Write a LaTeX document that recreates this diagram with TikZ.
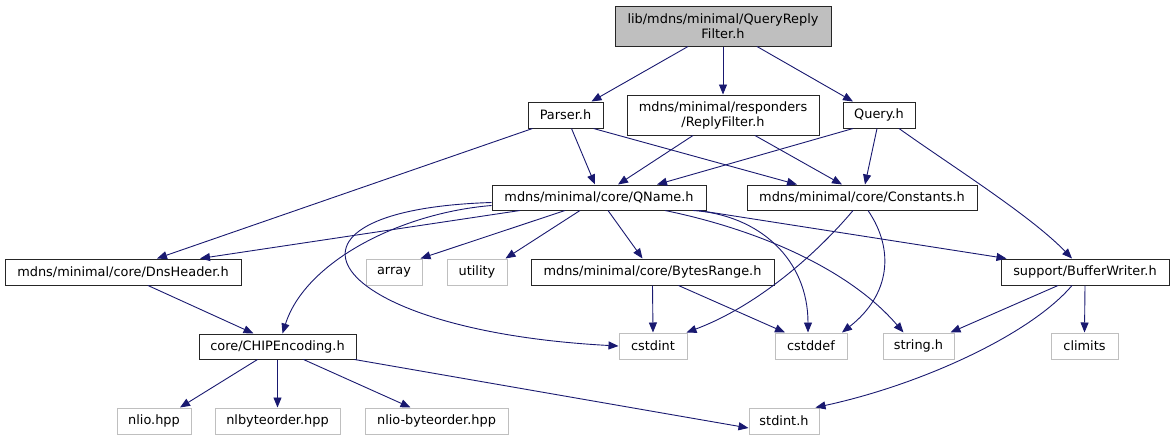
\documentclass[tikz,border=0pt]{standalone}
\usepackage{fontspec}
\setmainfont{DejaVu Sans}
\usepackage{xcolor}
\usepackage{tikz}
\usetikzlibrary{arrows.meta}
\definecolor{edgeblue}{HTML}{191970}
\definecolor{sysgray}{HTML}{BFBFBF}
\tikzset{
  hdr/.style={draw=black!85, line width=1pt, inner sep=0pt, align=center,
              font=\fontsize{12.9}{15}\selectfont, fill=white},
  syshdr/.style={hdr, draw=sysgray},
  dep/.style={draw=edgeblue, line width=0.9pt,
              -{Triangle[length=10pt, width=8pt]}, color=edgeblue}
}
\begin{document}
\begin{tikzpicture}[x=1pt, y=-1pt]
  \useasboundingbox (0,0) rectangle (1173,440);
  \node[hdr, fill=sysgray, minimum width=216pt, minimum height=40pt] (top) at (723,26)
    {lib/mdns/minimal/QueryReply\\Filter.h};
  \node[hdr, minimum width=75pt, minimum height=26pt] (parser) at (565.5,115) {Parser.h};
  \node[hdr, minimum width=192pt, minimum height=40pt] (reply) at (723,115)
    {mdns/minimal/responders\\/ReplyFilter.h};
  \node[hdr, minimum width=72pt, minimum height=26pt] (query) at (879,115) {Query.h};
  \node[hdr, minimum width=214pt, minimum height=25pt] (qname) at (599,197.5)
    {mdns/minimal/core/QName.h};
  \node[hdr, minimum width=230pt, minimum height=25pt] (constants) at (862,197.5)
    {mdns/minimal/core/Constants.h};
  \node[hdr, minimum width=236pt, minimum height=26pt] (dnsheader) at (123,272)
    {mdns/minimal/core/DnsHeader.h};
  \node[syshdr, minimum width=56pt, minimum height=26pt] (array) at (394,272) {array};
  \node[syshdr, minimum width=60pt, minimum height=26pt] (utility) at (477,272) {utility};
  \node[hdr, minimum width=243pt, minimum height=26pt] (bytesrange) at (652.5,272)
    {mdns/minimal/core/BytesRange.h};
  \node[hdr, minimum width=168pt, minimum height=26pt] (bufwriter) at (1085,272)
    {support/BufferWriter.h};
  \node[hdr, minimum width=157pt, minimum height=25pt] (chip) at (277.5,346.5)
    {core/CHIPEncoding.h};
  \node[syshdr, minimum width=68pt, minimum height=26pt] (cstdint) at (653,346) {cstdint};
  \node[syshdr, minimum width=72pt, minimum height=26pt] (cstddef) at (811,346) {cstddef};
  \node[syshdr, minimum width=71pt, minimum height=26pt] (stringh) at (918.5,346) {string.h};
  \node[syshdr, minimum width=67pt, minimum height=26pt] (climits) at (1084.5,346) {climits};
  \node[syshdr, minimum width=74pt, minimum height=26pt] (nlio) at (154,421) {nlio.hpp};
  \node[syshdr, minimum width=125pt, minimum height=26pt] (nlbyte) at (277.5,421) {nlbyteorder.hpp};
  \node[syshdr, minimum width=143pt, minimum height=26pt] (nliobyte) at (436.5,421) {nlio-byteorder.hpp};
  \node[syshdr, minimum width=70pt, minimum height=26pt] (stdinth) at (784,421) {stdint.h};

  \draw[dep] ([xshift=-35pt]top.south) -- ([xshift=26pt]parser.north);
  \draw[dep] (top.south) -- (reply.north);
  \draw[dep] ([xshift=34pt]top.south) -- ([xshift=-26pt]query.north);
  \draw[dep] ([xshift=-33pt]parser.south) -- ([xshift=34pt]dnsheader.north);
  \draw[dep] ([xshift=6pt]parser.south) -- ([xshift=-4pt]qname.north);
  \draw[dep] ([xshift=28pt]parser.south) -- ([xshift=-65pt]constants.north);
  \draw[dep] ([xshift=-30pt]reply.south) -- ([xshift=19pt]qname.north);
  \draw[dep] ([xshift=32pt]reply.south) -- ([xshift=-20pt]constants.north);
  \draw[dep] ([xshift=-26pt]query.south) -- ([xshift=58pt]qname.north);
  \draw[dep] ([xshift=-2pt]query.south) -- ([xshift=3pt]constants.north);
  \draw[dep] ([xshift=20pt]query.south) .. controls (950,165) and (1030,215) .. ([xshift=-13pt]bufwriter.north);
  \draw[dep] ([xshift=-79pt]qname.south) -- ([xshift=77pt]dnsheader.north);
  \draw[dep] ([yshift=-8pt]qname.west) .. controls (400,213) and (305,262) .. ([xshift=5pt]chip.north);
  \draw[dep] ([yshift=-5pt]qname.west) .. controls (250,210) and (320,330) .. (cstdint.west);
  \draw[dep] ([xshift=-34pt]qname.south) -- ([xshift=-2pt]array.north east);
  \draw[dep] ([xshift=-19pt]qname.south) -- ([xshift=-2pt]utility.north east);
  \draw[dep] ([xshift=9pt]qname.south) -- ([xshift=-10pt]bytesrange.north);
  \draw[dep] ([xshift=94pt]qname.south) .. controls (760,215) and (808,260) .. ([xshift=-3pt]cstddef.north);
  \draw[dep] ([xshift=66pt]qname.south) .. controls (760,230) and (850,270) .. ([xshift=-15pt]stringh.north);
  \draw[dep] ([xshift=100pt]qname.south) -- ([xshift=6pt]bufwriter.north west);
  \draw[dep] ([xshift=-9pt]constants.south) .. controls (820,250) and (760,305) .. ([xshift=-1pt]cstdint.north east);
  \draw[dep] ([xshift=6pt]constants.south) .. controls (895,250) and (890,295) .. ([xshift=31pt]cstddef.north);
  \draw[dep] ([xshift=25pt]dnsheader.south) -- ([xshift=-24pt]chip.north);
  \draw[dep] (bytesrange.south) -- (cstdint.north);
  \draw[dep] ([xshift=26pt]bytesrange.south) -- ([xshift=-26pt]cstddef.north);
  \draw[dep] ([xshift=-27pt]bufwriter.south) -- ([xshift=-4pt]stringh.north east);
  \draw[dep] (bufwriter.south) -- (climits.north);
  \draw[dep] ([xshift=-13pt]bufwriter.south) .. controls (1030,335) and (920,385) .. ([xshift=-4pt]stdinth.north east);
  \draw[dep] ([xshift=-20pt]chip.south) -- ([xshift=26pt]nlio.north);
  \draw[dep] (chip.south) -- (nlbyte.north);
  \draw[dep] ([xshift=26pt]chip.south) -- ([xshift=-26pt]nliobyte.north);
  \draw[dep] ([xshift=-2pt]chip.south east) -- ([yshift=-7pt]stdinth.west);
\end{tikzpicture}
\end{document}
